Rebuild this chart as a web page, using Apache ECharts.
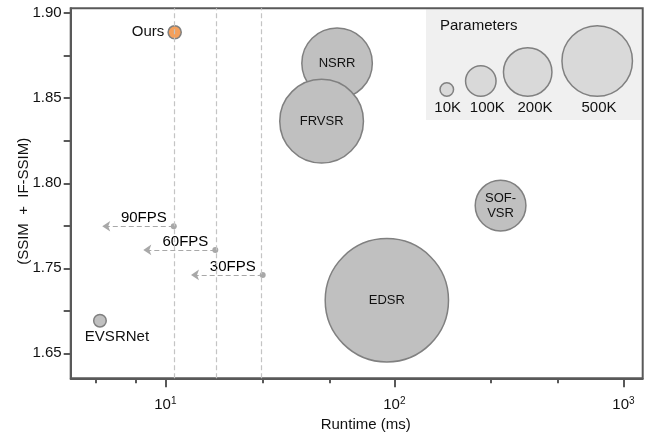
<!DOCTYPE html>
<html><head><meta charset="utf-8">
<script src="https://cdn.jsdelivr.net/npm/echarts@6/dist/echarts.min.js"></script>
<style>html,body{margin:0;padding:0;background:#fff}#c{width:653px;height:433px}</style>
</head><body><div id="c"></div>
<script>
// ---- data ----
const models = ['NSRR', 'FRVSR', 'SOF-VSR', 'EDSR', 'EVSRNet', 'Ours'];
const runtimeMs = [56.2, 48.1, 290.8, 92.7, 5.18, 10.98];
const quality = [1.8706, 1.8365, 1.7869, 1.7312, 1.7192, 1.8888];
const paramsK = [500, 680, 230, 1220, 5, 8];

const fpsLabels = ['90FPS', '60FPS', '30FPS'];
const fpsRuntimeMs = [10.88, 16.52, 26.6];
const fpsArrowTipMs = [5.30, 8.01, 12.94];
const fpsQuality = [1.7747, 1.7608, 1.7461];

const xMajorTicks = [10, 100, 1000];
const xMinorTicks = [4.96, 7.39, 26.5, 52, 264, 517];
const yTicks = [1.70, 1.725, 1.75, 1.775, 1.80, 1.825, 1.85, 1.875, 1.90];
const yLabelValues = [1.70, 1.75, 1.80, 1.85, 1.90];
const yTickLabels = ['1.65', '1.75', '1.80', '1.85', '1.90'];

const legendParamsK = [10, 100, 200, 500];
const legendLabels = ['10K', '100K', '200K', '500K'];

// ---- styling / helpers ----
const FONT = 'Liberation Sans, Arial, Helvetica, sans-serif';
const AX = '#595959';
const TXT = '#111111';
const X_MIN = Math.log10(3.86), X_MAX = Math.log10(1214);
const Y_MIN = 1.6853, Y_MAX = 1.9029;
const L = Math.log10;

// parameter -> visible bubble diameter (follows the legend's own scale)
const SIZE_STOPS = [[10, 15], [100, 32], [200, 50], [500, 72]];
function sizeOf(p) {
  const s = SIZE_STOPS;
  let i = 0;
  if (p <= s[0][0]) i = 0;
  else if (p >= s[s.length - 1][0]) i = s.length - 2;
  else { while (p > s[i + 1][0]) i++; }
  const [p0, d0] = s[i], [p1, d1] = s[i + 1];
  return d0 + (p - p0) * (d1 - d0) / (p1 - p0);
}
const BW = 1.5;

const bubbleData = models.map((m, i) => {
  const d = {
    name: m,
    value: [L(runtimeMs[i]), quality[i], paramsK[i]]
  };
  if (m === 'Ours') {
    d.itemStyle = { color: '#f4a05c' };
    d.label = { position: 'left', fontSize: 15, distance: 3 };
  } else if (m === 'EVSRNet') {
    d.label = { position: 'bottom', fontSize: 15, distance: 2, offset: [17, 0] };
  }
  return d;
});

const fpsData = fpsLabels.map((n, i) => ({ name: n, value: [L(fpsRuntimeMs[i]), fpsQuality[i]] }));
const arrowLines = fpsLabels.map((n, i) => [
  { coord: [L(fpsRuntimeMs[i]), fpsQuality[i]] },
  { coord: [L(fpsArrowTipMs[i]), fpsQuality[i]] }
]);

// legend layout (pixels, legend decoration only)
const LEG_CX = [446.8, 480.8, 527.7, 597.2];
const LEG_LX = [447.7, 487.3, 535, 599];
const LEG_BASE = 97;
const graphics = [
  { type: 'rect', z: -1, shape: { x: 426, y: 9.4, width: 215.3, height: 110.6 }, style: { fill: '#f0f0f0' } },
  { type: 'text', x: 440, y: 25.7, style: { text: 'Parameters', font: '15px ' + FONT, fill: TXT, textVerticalAlign: 'middle', textAlign: 'left' } }
];
legendParamsK.forEach((p, i) => {
  const r = sizeOf(p) / 2 - BW / 2;
  graphics.push({ type: 'circle', shape: { cx: LEG_CX[i], cy: LEG_BASE - sizeOf(p) / 2, r: r },
    style: { fill: '#d9d9d9', stroke: '#808080', lineWidth: BW } });
  graphics.push({ type: 'text', x: LEG_LX[i], y: 108.3,
    style: { text: legendLabels[i], font: '15px ' + FONT, fill: TXT, textAlign: 'center', textVerticalAlign: 'middle' } });
});

const chart = echarts.init(document.getElementById('c'), null, { renderer: 'canvas' });
chart.setOption({
  animation: false,
  textStyle: { fontFamily: FONT },
  grid: {
    left: 70.7, right: 10.3, top: 8.3, bottom: 54.7,
    show: true, borderColor: AX, borderWidth: 2, backgroundColor: 'transparent',
    outerBoundsMode: 'none'
  },
  xAxis: [
    {
      type: 'value', min: X_MIN, max: X_MAX, position: 'bottom',
      name: 'Runtime (ms)', nameLocation: 'middle', nameGap: 37,
      nameTextStyle: { fontSize: 15, color: TXT, fontFamily: FONT, padding: [0, 0, 0, 18] },
      axisLine: { show: true, onZero: false, lineStyle: { color: AX, width: 2 } },
      axisTick: { show: true, customValues: xMajorTicks.map(L), length: 9, lineStyle: { color: AX, width: 2 } },
      axisLabel: {
        show: true, customValues: xMajorTicks.map(L), margin: 18,
        formatter: v => '{b|10}{s|' + Math.round(v) + '}',
        rich: {
          b: { fontSize: 15, color: TXT, fontFamily: FONT },
          s: { fontSize: 10, color: TXT, fontFamily: FONT, padding: [0, 0, 8, 0] }
        }
      },
      splitLine: { show: false }
    },
    {
      type: 'value', min: X_MIN, max: X_MAX, position: 'bottom', gridIndex: 0,
      axisLine: { show: false, onZero: false },
      axisTick: { show: true, customValues: xMinorTicks.map(L), length: 5, lineStyle: { color: AX, width: 2 } },
      axisLabel: { show: false },
      splitLine: { show: false }
    }
  ],
  yAxis: {
    type: 'value', min: Y_MIN, max: Y_MAX,
    name: '(SSIM  +  IF-SSIM)', nameLocation: 'middle', nameGap: 39, nameMoveOverlap: false,
    nameTextStyle: { fontSize: 15, color: TXT, fontFamily: FONT, padding: [0, 16, 0, 0] },
    axisLine: { show: true, onZero: false, lineStyle: { color: AX, width: 2 } },
    axisTick: { show: true, customValues: yTicks, length: 7, lineStyle: { color: AX, width: 2 } },
    axisLabel: {
      show: true, customValues: yLabelValues, margin: 9, fontSize: 15, color: TXT, fontFamily: FONT,
      formatter: v => {
        let best = 0;
        yLabelValues.forEach((t, i) => { if (Math.abs(t - v) < Math.abs(yLabelValues[best] - v)) best = i; });
        return yTickLabels[best];
      }
    },
    splitLine: { show: false }
  },
  graphic: graphics,
  series: [
    {
      type: 'scatter', name: 'models', xAxisIndex: 0, z: 3,
      data: bubbleData,
      symbolSize: v => sizeOf(v[2]) - BW,
      itemStyle: { color: '#c0c0c0', borderColor: '#808080', borderWidth: BW, opacity: 1 },
      label: {
        show: true, position: 'inside', fontSize: 13, color: TXT, fontFamily: FONT, lineHeight: 15,
        formatter: p => p.name === 'SOF-VSR' ? 'SOF-\nVSR' : p.name
      },
      emphasis: { disabled: true },
      markLine: {
        silent: true, symbol: ['none', 'none'], animation: false,
        label: { show: false },
        lineStyle: { color: '#c4c4c4', type: [5, 3], width: 1.2 },
        emphasis: { disabled: true },
        data: fpsRuntimeMs.map(v => ({ xAxis: L(v) }))
      }
    },
    {
      type: 'scatter', name: 'fps', xAxisIndex: 0, z: 4,
      data: fpsData,
      symbolSize: 6,
      itemStyle: { color: '#a8a8a8', opacity: 1 },
      label: { show: true, position: 'left', distance: 4, offset: [0, -8], fontSize: 15, color: '#000', opacity: 1, textBorderWidth: 0, fontFamily: FONT, formatter: p => p.name },
      emphasis: { disabled: true },
      markLine: {
        silent: true, symbol: ['none', 'arrow'], symbolSize: 8, animation: false,
        label: { show: false },
        lineStyle: { color: '#a8a8a8', type: [5, 3], width: 1.2, opacity: 1 },
        itemStyle: { color: '#a8a8a8' },
        emphasis: { disabled: true },
        data: arrowLines
      }
    }
  ]
});
</script></body></html>
